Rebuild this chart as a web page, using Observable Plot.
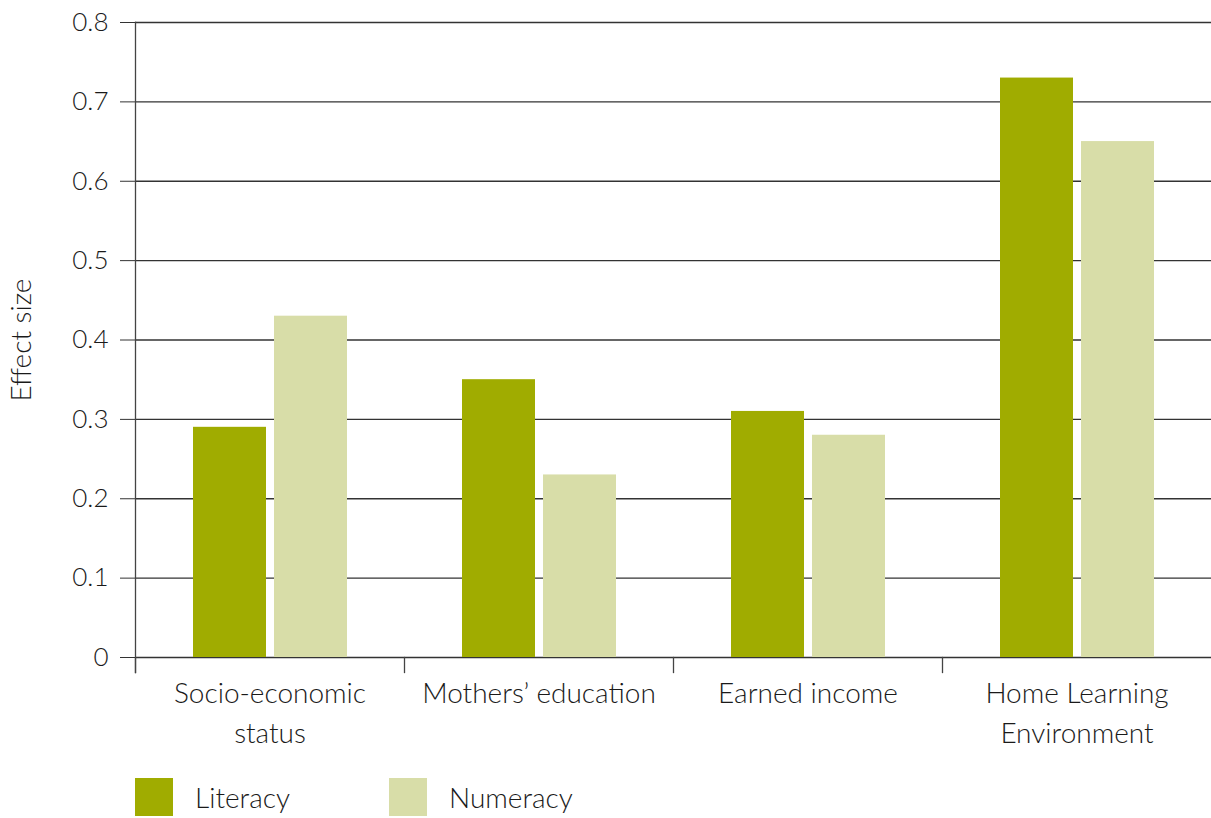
<!DOCTYPE html>
<html>
<head>
<meta charset="utf-8">
<script src="https://cdn.jsdelivr.net/npm/d3@7"></script>
<script src="https://cdn.jsdelivr.net/npm/@observablehq/plot@0.6"></script>
<style>
  body { margin: 0; background: #fff; font-family: Lato, "Open Sans", sans-serif; font-weight: 300; }
  #chart text { font-size: 28px; fill: #1a1a1a; }
  #chart g[aria-label="y-axis tick label"] text { font-size: 26px; }
  #legend { display: flex; align-items: center; margin-left: 135px; margin-top: 18px; font-size: 28px; color: #1a1a1a; }
  .item { display: flex; align-items: center; }
  .sw { width: 38px; height: 38px; display: inline-block; }
</style>
</head>
<body>
<div id="chart"></div>
<div id="legend"></div>
<script>
const categories = ["Socio-economic status", "Mothers’ education", "Earned income", "Home Learning Environment"];
const categoryLabels = ["Socio-economic\nstatus", "Mothers’ education", "Earned income", "Home Learning\nEnvironment"];
const series = ["Literacy", "Numeracy"];
const literacy = [0.29, 0.35, 0.31, 0.73];
const numeracy = [0.43, 0.23, 0.28, 0.65];
const yTicks = [0, 0.1, 0.2, 0.3, 0.4, 0.5, 0.6, 0.7, 0.8];
const colors = ["#a0ac00", "#d8dda8"];

const data = categories.flatMap((c, i) => [
  {category: c, series: "Literacy", value: literacy[i]},
  {category: c, series: "Numeracy", value: numeracy[i]}
]);
const labelOf = new Map(categories.map((c, i) => [c, categoryLabels[i]]));

const chart = Plot.plot({
  width: 1211,
  height: 760,
  marginTop: 22,
  marginBottom: 103,
  marginLeft: 135,
  marginRight: 0,
  style: {fontFamily: "Lato, 'Open Sans', sans-serif", fontSize: "28px", fontWeight: 300, color: "#1a1a1a"},
  fx: {domain: categories, paddingInner: 0, paddingOuter: 0},
  x: {domain: series, paddingInner: 0.0988, paddingOuter: 0.705, axis: null},
  y: {domain: [0, 0.8]},
  color: {domain: series, range: colors},
  marks: [
    Plot.ruleY(yTicks, {stroke: "#333", strokeWidth: 1.3}),
    Plot.barY(data, {fx: "category", x: "series", y: "value", fill: "series"}),
    Plot.frame({anchor: "left", facet: "super", insetBottom: -15, stroke: "#444", strokeWidth: 1.3}),
    Plot.frame({anchor: "left", insetTop: 635, insetBottom: -15, stroke: "#444", strokeWidth: 1.3}),
    Plot.axisY({ticks: yTicks, tickFormat: d => String(d), tickSize: 15, tickPadding: 12, stroke: "#333",
      label: "Effect size", labelAnchor: "center", labelOffset: 124, labelArrow: "none"}),
    Plot.axisFx({anchor: "bottom", tickSize: 0, tickPadding: 17, tickFormat: d => labelOf.get(d), lineHeight: 1.43, label: null})
  ]
});
document.getElementById("chart").appendChild(chart);

const legend = document.getElementById("legend");
series.forEach((s, i) => {
  const item = document.createElement("div");
  item.className = "item";
  if (i === 0) item.style.width = "254px";
  const sw = document.createElement("span");
  sw.className = "sw";
  sw.style.background = colors[i];
  const t = document.createElement("span");
  t.textContent = s;
  t.style.marginLeft = "22px";
  item.appendChild(sw);
  item.appendChild(t);
  legend.appendChild(item);
});
</script>
</body>
</html>
